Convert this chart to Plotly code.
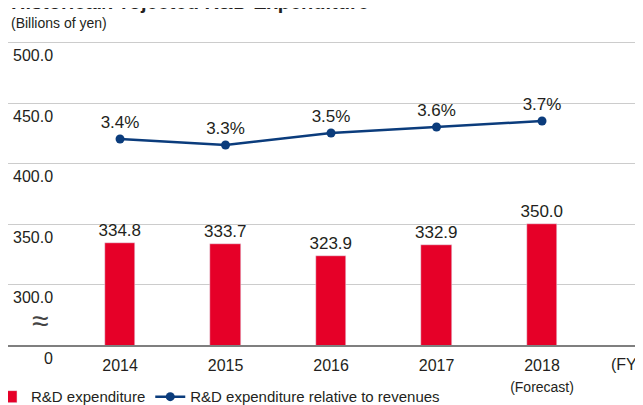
import plotly.graph_objects as go

years = [2014, 2015, 2016, 2017, 2018]
year_labels = ["2014", "2015", "2016", "2017", "2018<br><span style='font-size:14px'>(Forecast)</span>"]
expenditure = [334.8, 333.7, 323.9, 332.9, 350.0]
ratio = [3.4, 3.3, 3.5, 3.6, 3.7]
y_tick_vals = [250, 300, 350, 400, 450, 500]
y_tick_text = ["0", "300.0", "350.0", "400.0", "450.0", "500.0"]

RED = "#E60028"
NAVY = "#0B3C7C"
FONT = "Liberation Sans, Arial, sans-serif"
TXT = "#231F20"

fig = go.Figure()
fig.add_trace(go.Bar(
    x=years, y=expenditure, width=0.29, marker_color=RED,
    name="R&D expenditure",
    text=[f"{v:.1f}" for v in expenditure], textposition="outside",
    constraintext="none",
    textfont=dict(size=17, color=TXT, family=FONT), cliponaxis=False,
))
fig.add_trace(go.Scatter(
    x=years, y=ratio, yaxis="y2", mode="lines+markers+text",
    name="R&D expenditure relative to revenues",
    line=dict(color=NAVY, width=2.5), marker=dict(size=9, color=NAVY),
    text=[f"{v:.1f}%" for v in ratio], textposition="top center",
    textfont=dict(size=17, color=TXT, family=FONT), cliponaxis=False,
))

PH = 307  # plot height in px
annotations = []
for v, t in zip(y_tick_vals, y_tick_text):
    annotations.append(dict(x=47 / 643, xref="paper", y=v, yref="y", text=t,
                            xanchor="right", yanchor="middle", yshift=-13, showarrow=False,
                            font=dict(size=16, color=TXT, family=FONT)))
annotations.append(dict(x=32 / 643, xref="paper", y=270, yref="y", text="≈",
                        xanchor="center", yanchor="middle", showarrow=False,
                        font=dict(size=30, color="#444444", family=FONT)))
annotations.append(dict(x=601 / 643, xref="paper", y=250, yref="y", text="(FY)",
                        xanchor="left", yanchor="middle", yshift=-19, showarrow=False,
                        font=dict(size=16, color=TXT, family=FONT)))
annotations.append(dict(x=0, xref="paper", y=(337 + 6) / PH, yref="paper",
                        text="<b>Historical/Projected R&D Expenditure</b>",
                        xanchor="left", yanchor="middle", showarrow=False, xshift=1,
                        font=dict(size=20, color=TXT, family=FONT)))
annotations.append(dict(x=0, xref="paper", y=(337 - 15) / PH, yref="paper",
                        text="(Billions of yen)", xanchor="left", yanchor="middle",
                        showarrow=False, xshift=1,
                        font=dict(size=14, color=TXT, family=FONT)))

fig.update_layout(
    width=643, height=405,
    margin=dict(l=0, r=0, t=30, b=68, autoexpand=False),
    plot_bgcolor="white", paper_bgcolor="white",
    font=dict(family=FONT, color=TXT),
    showlegend=True,
    legend=dict(orientation="h", x=-0.0264, xanchor="left", y=-0.169, yanchor="middle",
                font=dict(size=15, color=TXT, family=FONT), itemwidth=30,
                bgcolor="rgba(0,0,0,0)"),
    xaxis=dict(range=[2012.938, 2019.033], tickvals=years, ticktext=year_labels,
               showgrid=False, showline=True, linecolor="#7F7F7F", linewidth=1.5,
               ticks="", ticklabelstandoff=5,
               tickfont=dict(size=16, color=TXT, family=FONT), zeroline=False),
    yaxis=dict(range=[250, 504.1], tickvals=y_tick_vals, showticklabels=False,
               showgrid=True, gridcolor="#CCCCCC", gridwidth=1, zeroline=False, ticks=""),
    yaxis2=dict(range=[-0.033, 5.083], overlaying="y", side="right", visible=False,
                showgrid=False),
    annotations=annotations,
    bargap=0,
)

fig.write_html("out.html")
